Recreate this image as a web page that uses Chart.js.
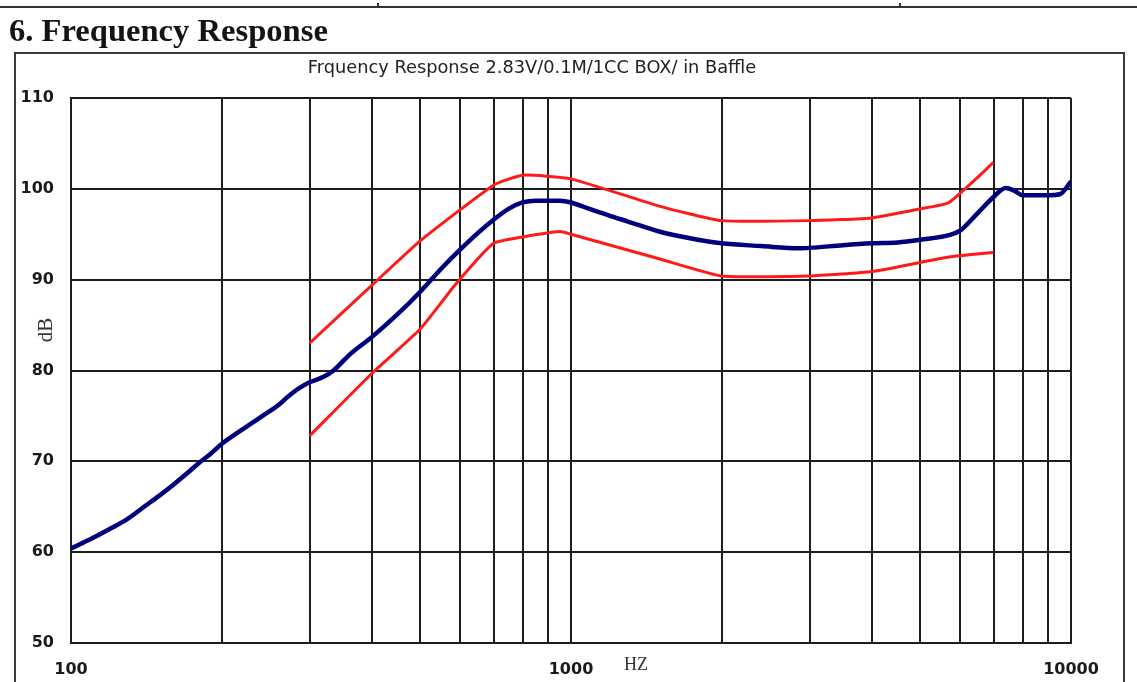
<!DOCTYPE html>
<html>
<head>
<meta charset="utf-8">
<script src="https://cdn.jsdelivr.net/npm/chart.js@4.4.1/dist/chart.umd.min.js"></script>
<style>
  html, body { margin: 0; padding: 0; background: #fff; }
  #wrap { width: 1137px; height: 682px; position: relative; }
</style>
</head>
<body>
<div id="wrap"><canvas id="c" width="1137" height="682"></canvas></div>
<script>
// ---- Data ----
const pageTitle = "6. Frequency Response";
const chartTitle = "Frquency Response 2.83V/0.1M/1CC BOX/ in Baffle";
const xAxisLabel = "HZ";
const yAxisLabel = "dB";

const gridFreqs = [100, 200, 300, 400, 500, 600, 700, 800, 900, 1000,
                   2000, 3000, 4000, 5000, 6000, 7000, 8000, 9000, 10000];
const labeledFreqs = [100, 1000, 10000];
const dbTicks = [50, 60, 70, 80, 90, 100, 110];

// Measured response (blue)
const respFreq = [100, 110, 120, 130, 140, 150, 160, 170, 180, 190, 200, 220, 240, 260, 270, 285, 300, 320, 335, 360,
                  400, 450, 500, 550, 600, 650, 700, 750, 800, 850, 950, 1000, 1100, 1200, 1300, 1500, 1750, 2000,
                  2400, 2850, 3000, 3500, 4000, 4500, 5000, 5700, 6000, 6500, 7000, 7400, 7700, 8000, 9000, 9500, 10000];
const respDb   = [60.4, 61.5, 62.6, 63.7, 65.0, 66.2, 67.4, 68.6, 69.8, 70.8, 71.9, 73.5, 74.9, 76.2, 77.0, 78.0, 78.7, 79.3, 80.0, 81.7,
                  83.7, 86.2, 88.7, 91.2, 93.3, 95.1, 96.6, 97.8, 98.5, 98.7, 98.7, 98.5, 97.7, 97.0, 96.4, 95.3, 94.5, 94.0,
                  93.7, 93.45, 93.5, 93.8, 94.0, 94.1, 94.4, 94.9, 95.4, 97.3, 99.1, 100.1, 99.8, 99.3, 99.3, 99.4, 100.8];

// Upper tolerance limit (red)
const upperFreq = [300, 400, 500, 700, 800, 1000, 1500, 2000, 3000, 4000, 5000, 5700, 7000];
const upperDb   = [83.0, 89.4, 94.3, 100.4, 101.5, 101.1, 98.1, 96.5, 96.5, 96.8, 97.8, 98.5, 102.9];

// Lower tolerance limit (red)
const lowerFreq = [300, 400, 500, 590, 700, 800, 950, 1000, 1500, 2000, 3000, 4000, 5000, 5700, 7000];
const lowerDb   = [72.8, 79.7, 84.6, 89.6, 94.0, 94.7, 95.3, 95.0, 92.3, 90.4, 90.4, 90.9, 91.9, 92.5, 93.0];

const toPts = (xs, ys) => xs.map((x, i) => ({ x: x, y: ys[i] }));

// ---- Decorations ----
const decor = {
  id: 'decor',
  beforeDraw(chart) {
    const ctx = chart.ctx;
    ctx.save();
    ctx.fillStyle = '#ffffff';
    ctx.fillRect(0, 0, chart.width, chart.height);
    ctx.restore();
  },
  afterDraw(chart) {
    const ctx = chart.ctx;
    ctx.save();
    // top rule of page
    ctx.strokeStyle = '#333';
    ctx.lineWidth = 2;
    ctx.beginPath();
    ctx.moveTo(0, 7); ctx.lineTo(chart.width, 7);
    ctx.moveTo(378, 7); ctx.lineTo(378, 3);
    ctx.moveTo(900, 7); ctx.lineTo(900, 3);
    ctx.stroke();
    // outer frame
    ctx.strokeStyle = '#3a3a3a';
    ctx.lineWidth = 2;
    ctx.beginPath();
    ctx.moveTo(15, 700); ctx.lineTo(15, 53); ctx.lineTo(1124, 53); ctx.lineTo(1124, 700);
    ctx.stroke();
    // page heading
    ctx.fillStyle = '#141414';
    ctx.font = 'bold 32.6px "Liberation Serif", "Times New Roman", serif';
    ctx.textAlign = 'left';
    ctx.textBaseline = 'alphabetic';
    ctx.fillText(pageTitle, 9, 41);
    // chart title
    ctx.fillStyle = '#222';
    ctx.font = '17.8px "DejaVu Sans", sans-serif';
    ctx.textAlign = 'center';
    ctx.textBaseline = 'middle';
    ctx.fillText(chartTitle, 532, 68);
    // axis labels
    ctx.fillStyle = '#333';
    ctx.font = '18px "Liberation Serif", serif';
    ctx.fillText(xAxisLabel, 636, 665);
    ctx.translate(46, 330);
    ctx.rotate(-Math.PI / 2);
    ctx.font = '21px "Liberation Serif", serif';
    ctx.fillText(yAxisLabel, 0, 0);
    ctx.restore();
  }
};

const gridColor = '#1e1e1e';

new Chart(document.getElementById('c'), {
  type: 'line',
  data: {
    datasets: [
      { label: 'Upper', data: toPts(upperFreq, upperDb), borderColor: '#ff1a1a', borderWidth: 3,
        pointRadius: 0, tension: 0.15, fill: false },
      { label: 'Lower', data: toPts(lowerFreq, lowerDb), borderColor: '#ff1a1a', borderWidth: 3,
        pointRadius: 0, tension: 0.15, fill: false },
      { label: 'Response', data: toPts(respFreq, respDb), borderColor: '#00007f', borderWidth: 4.5,
        pointRadius: 0, cubicInterpolationMode: 'monotone', fill: false }
    ]
  },
  options: {
    responsive: false,
    animation: false,
    devicePixelRatio: 1,
    layout: { padding: { left: 0, right: 66, top: 98, bottom: 0 } },
    plugins: { legend: { display: false }, title: { display: false }, tooltip: { enabled: false } },
    scales: {
      x: {
        type: 'logarithmic',
        min: 100, max: 10000,
        afterBuildTicks: (s) => { s.ticks = gridFreqs.map(v => ({ value: v })); },
        afterFit: (s) => { s.height = 39; },
        grid: { color: gridColor, lineWidth: 2, drawTicks: false },
        border: { color: gridColor, width: 2 },
        ticks: {
          autoSkip: false, maxRotation: 0, padding: 17,
          color: '#1a1a1a',
          font: { family: 'DejaVu Sans', size: 16, weight: 'bold' },
          callback: (v) => labeledFreqs.includes(v) ? String(v) : ''
        }
      },
      y: {
        min: 50, max: 110,
        afterBuildTicks: (s) => { s.ticks = dbTicks.map(v => ({ value: v })); },
        afterFit: (s) => { s.width = 71; },
        grid: { color: gridColor, lineWidth: 2, drawTicks: false },
        border: { color: gridColor, width: 2 },
        ticks: {
          padding: 17, color: '#1a1a1a',
          font: { family: 'DejaVu Sans', size: 16, weight: 'bold' }
        }
      }
    }
  },
  plugins: [decor]
});
</script>
</body>
</html>
